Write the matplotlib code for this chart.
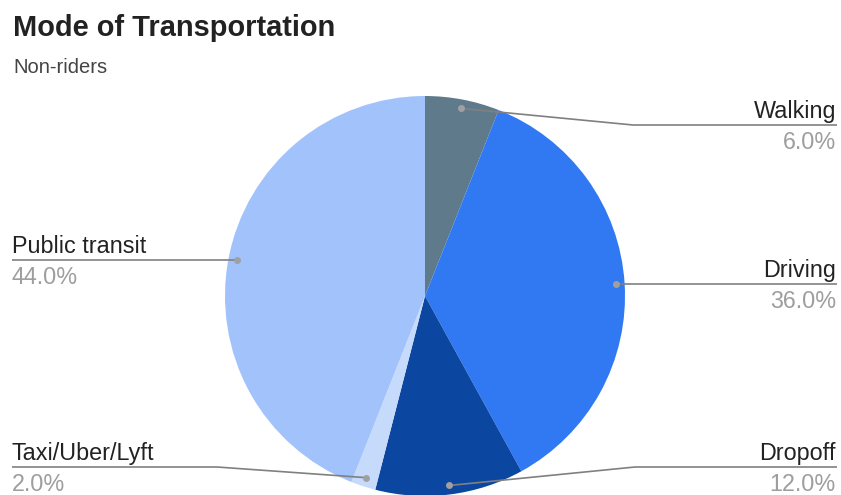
import numpy as np
import matplotlib
matplotlib.use("Agg")
import matplotlib.pyplot as plt

# Data
categories = ["Walking", "Driving", "Dropoff", "Taxi/Uber/Lyft", "Public transit"]
shares = [6.0, 36.0, 12.0, 2.0, 44.0]
colors = ["#5f7b8b", "#3079f2", "#0b46a1", "#c6dafc", "#a1c2fa"]

W, H = 841, 495
fig = plt.figure(figsize=(W / 100, H / 100), dpi=100)
ax = fig.add_axes([0, 0, 1, 1])

def Y(py):
    return H - py

cx, cy, R = 425, 296, 200
ax.pie(shares, colors=colors, startangle=90, counterclock=False,
       center=(cx, Y(cy)), radius=R, frame=True,
       wedgeprops=dict(linewidth=0, antialiased=True))
ax.set_xlim(0, W)
ax.set_ylim(0, H)
ax.set_aspect("equal")
ax.axis("off")

# Title and subtitle
fig.text(13 / W, 1 - 36 / H, "Mode of Transportation", fontsize=20.9,
         fontweight="bold", family="Liberation Sans", color="#222222",
         ha="left", va="baseline")
fig.text(13 / W, 1 - 73 / H, "Non-riders", fontsize=14.5,
         family="Liberation Sans", color="#444444", ha="left", va="baseline")

# Leader layout: side, elbow x (None = straight), label line y
layout = {
    "Walking": ("right", 633, 125),
    "Driving": ("right", None, 284),
    "Dropoff": ("right", 635, 467),
    "Taxi/Uber/Lyft": ("left", 217, 467),
    "Public transit": ("left", None, 260),
}

line_col = "#808080"
dot_col = "#a0a0a0"
fs = 16.8
cum = 0.0
for name, val in zip(categories, shares):
    mid = cum + val / 2
    cum += val
    ang = np.deg2rad(90 - mid / 100 * 360)
    r = 0.955 * R
    dx, dy = cx + r * np.cos(ang), cy - r * np.sin(ang)
    side, ex, ly = layout[name]
    end_x = 837 if side == "right" else 12
    if ex is None:
        xs, ys = [dx, end_x], [ly, ly]
    else:
        xs, ys = [dx, ex, end_x], [dy, ly, ly]
    ax.plot(xs, [Y(v) for v in ys], color=line_col, lw=1.2,
            solid_capstyle="butt", zorder=3)
    ax.plot([dx], [Y(dy)], "o", ms=5, color=dot_col, mec="none", zorder=4)
    ha = "right" if side == "right" else "left"
    tx = 836 if side == "right" else 12
    ax.text(tx, Y(ly - 7), name, fontsize=fs, family="Liberation Sans",
            color="#222222", ha=ha, va="baseline")
    ax.text(tx, Y(ly + 24), f"{val:.1f}%", fontsize=fs, family="Liberation Sans",
            color="#9e9e9e", ha=ha, va="baseline")

fig.savefig("out.png", dpi=100, facecolor="white")
